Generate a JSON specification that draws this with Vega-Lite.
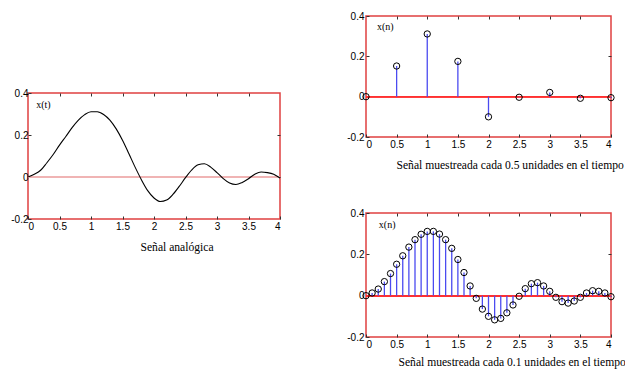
{
  "$schema": "https://vega.github.io/schema/vega-lite/v6.json",
  "padding": {"left": 10, "top": 10, "right": 0, "bottom": 0},
  "background": "white",
  "config": {
    "view": {"stroke": "#e04040", "strokeWidth": 1.5},
    "axis": {
      "domain": false, "grid": false,
      "labelFont": "Liberation Sans", "labelFontSize": 10, "labelColor": "black",
      "tickColor": "#333", "tickSize": -3, "labelPadding": 5,
      "titleFont": "Liberation Serif", "titleFontSize": 11.6, "titleFontWeight": "normal", "titleColor": "black"
    }
  },
  "datasets": {
    "s01": [
      {"t": 0, "v": 0}, {"t": 0.1, "v": 0.013}, {"t": 0.2, "v": 0.032}, {"t": 0.3, "v": 0.068},
      {"t": 0.4, "v": 0.107}, {"t": 0.5, "v": 0.152}, {"t": 0.6, "v": 0.193}, {"t": 0.7, "v": 0.235},
      {"t": 0.8, "v": 0.271}, {"t": 0.9, "v": 0.297}, {"t": 1.0, "v": 0.311}, {"t": 1.1, "v": 0.311},
      {"t": 1.2, "v": 0.298}, {"t": 1.3, "v": 0.271}, {"t": 1.4, "v": 0.229}, {"t": 1.5, "v": 0.175},
      {"t": 1.6, "v": 0.112}, {"t": 1.7, "v": 0.047}, {"t": 1.8, "v": -0.013}, {"t": 1.9, "v": -0.065},
      {"t": 2.0, "v": -0.1}, {"t": 2.1, "v": -0.117}, {"t": 2.2, "v": -0.11}, {"t": 2.3, "v": -0.083},
      {"t": 2.4, "v": -0.045}, {"t": 2.5, "v": -0.003}, {"t": 2.6, "v": 0.034}, {"t": 2.7, "v": 0.058},
      {"t": 2.8, "v": 0.063}, {"t": 2.9, "v": 0.047}, {"t": 3.0, "v": 0.021}, {"t": 3.1, "v": -0.008},
      {"t": 3.2, "v": -0.029}, {"t": 3.3, "v": -0.036}, {"t": 3.4, "v": -0.026}, {"t": 3.5, "v": -0.008},
      {"t": 3.6, "v": 0.013}, {"t": 3.7, "v": 0.024}, {"t": 3.8, "v": 0.021}, {"t": 3.9, "v": 0.013},
      {"t": 4.0, "v": -0.005}
    ],
    "s05": [
      {"t": 0, "v": 0}, {"t": 0.5, "v": 0.152}, {"t": 1.0, "v": 0.311}, {"t": 1.5, "v": 0.175},
      {"t": 2.0, "v": -0.1}, {"t": 2.5, "v": -0.003}, {"t": 3.0, "v": 0.021}, {"t": 3.5, "v": -0.008},
      {"t": 4.0, "v": -0.005}
    ]
  },
  "spacing": 62,
  "hconcat": [
    {
      "spacing": 0,
      "vconcat": [
        {
          "width": 10, "height": 71,
          "view": {"stroke": null},
          "data": {"values": [{}]},
          "mark": {"type": "point", "opacity": 0},
          "encoding": {}
        },
        {
          "width": 252, "height": 126,
          "data": {"name": "s01"},
          "resolve": {"axis": {"x": "independent", "y": "independent"}},
          "layer": [
            {
              "mark": {"type": "rule", "color": "#f0b4b4", "strokeWidth": 1.2},
              "encoding": {"y": {"datum": 0, "type": "quantitative", "axis": null}}
            },
            {
              "mark": {"type": "line", "color": "black", "strokeWidth": 1.1, "interpolate": "monotone"},
              "encoding": {
                "x": {"field": "t", "type": "quantitative", "scale": {"domain": [0, 4], "nice": false},
                  "axis": {"values": [0, 0.5, 1, 1.5, 2, 2.5, 3, 3.5, 4], "format": "~g", "title": "Señal analógica",
                    "titleX": 112, "titleAlign": "left", "titleY": 28, "titleBaseline": "middle"}},
                "y": {"field": "v", "type": "quantitative", "scale": {"domain": [-0.2, 0.4], "nice": false},
                  "axis": {"values": [-0.2, 0, 0.2, 0.4], "format": "~g", "labelPadding": 3, "title": null, "labelExpr": "replace(datum.label, '\u2212', '-')"}}
              }
            },
            {
              "mark": {"type": "point", "opacity": 0},
              "encoding": {
                "x": {"field": "t", "type": "quantitative", "axis": {"orient": "top", "labels": false, "title": null, "values": [0.5, 1, 1.5, 2, 2.5, 3, 3.5]}},
                "y": {"field": "v", "type": "quantitative", "axis": {"orient": "right", "labels": false, "title": null, "values": [0, 0.2]}}
              }
            },
            {
              "data": {"values": [{"label": "x(t)"}]},
              "mark": {"type": "text", "font": "Liberation Serif", "fontSize": 10, "align": "left", "baseline": "middle", "color": "black"},
              "encoding": {
                "x": {"datum": 0.13, "type": "quantitative", "axis": null},
                "y": {"datum": 0.345, "type": "quantitative", "axis": null},
                "text": {"field": "label"}
              }
            }
          ]
        }
      ]
    },
    {
      "spacing": 35,
      "vconcat": [
        {
          "width": 245, "height": 121,
          "data": {"name": "s05"},
          "resolve": {"axis": {"x": "independent", "y": "independent"}},
          "layer": [
            {
              "mark": {"type": "rule", "color": "#ff3030", "strokeWidth": 1.2},
              "encoding": {"y": {"datum": 0, "type": "quantitative", "axis": null}}
            },
            {
              "mark": {"type": "rule", "color": "#4b4bf0", "strokeWidth": 1.3},
              "encoding": {
                "x": {"field": "t", "type": "quantitative", "scale": {"domain": [0, 4], "nice": false},
                  "axis": {"values": [0, 0.5, 1, 1.5, 2, 2.5, 3, 3.5, 4], "format": "~g", "title": "Señal muestreada cada 0.5 unidades en el tiempo",
                    "titleX": 30, "titleAlign": "left", "titleY": 28, "titleBaseline": "middle"}},
                "y": {"field": "v", "type": "quantitative", "scale": {"domain": [-0.2, 0.4], "nice": false},
                  "axis": {"values": [-0.2, 0, 0.2, 0.4], "format": "~g", "title": null, "labelExpr": "replace(datum.label, '\u2212', '-')"}},
                "y2": {"datum": 0}
              }
            },
            {
              "mark": {"type": "point", "shape": "circle", "filled": false, "color": "black", "size": 40, "strokeWidth": 1, "opacity": 1},
              "encoding": {
                "x": {"field": "t", "type": "quantitative", "axis": {"orient": "top", "labels": false, "title": null, "values": [0.5, 1, 1.5, 2, 2.5, 3, 3.5]}},
                "y": {"field": "v", "type": "quantitative", "axis": {"orient": "right", "labels": false, "title": null, "values": [0, 0.2]}}
              }
            },
            {
              "data": {"values": [{"label": "x(n)"}]},
              "mark": {"type": "text", "font": "Liberation Serif", "fontSize": 10, "align": "left", "baseline": "middle", "color": "black"},
              "encoding": {
                "x": {"datum": 0.18, "type": "quantitative", "axis": null},
                "y": {"datum": 0.345, "type": "quantitative", "axis": null},
                "text": {"field": "label"}
              }
            }
          ]
        },
        {
          "width": 245, "height": 124,
          "data": {"name": "s01"},
          "resolve": {"axis": {"x": "independent", "y": "independent"}},
          "layer": [
            {
              "mark": {"type": "rule", "color": "#ff3030", "strokeWidth": 1.2},
              "encoding": {"y": {"datum": 0, "type": "quantitative", "axis": null}}
            },
            {
              "mark": {"type": "rule", "color": "#4b4bf0", "strokeWidth": 1.3},
              "encoding": {
                "x": {"field": "t", "type": "quantitative", "scale": {"domain": [0, 4], "nice": false},
                  "axis": {"values": [0, 0.5, 1, 1.5, 2, 2.5, 3, 3.5, 4], "format": "~g", "title": "Señal muestreada cada 0.1 unidades en el tiempo",
                    "titleX": 32, "titleAlign": "left", "titleY": 25, "titleBaseline": "middle"}},
                "y": {"field": "v", "type": "quantitative", "scale": {"domain": [-0.2, 0.4], "nice": false},
                  "axis": {"values": [-0.2, 0, 0.2, 0.4], "format": "~g", "title": null, "labelExpr": "replace(datum.label, '\u2212', '-')"}},
                "y2": {"datum": 0}
              }
            },
            {
              "mark": {"type": "point", "shape": "circle", "filled": false, "color": "black", "size": 40, "strokeWidth": 1, "opacity": 1},
              "encoding": {
                "x": {"field": "t", "type": "quantitative", "axis": {"orient": "top", "labels": false, "title": null, "values": [0.5, 1, 1.5, 2, 2.5, 3, 3.5]}},
                "y": {"field": "v", "type": "quantitative", "axis": {"orient": "right", "labels": false, "title": null, "values": [0, 0.2]}}
              }
            },
            {
              "data": {"values": [{"label": "x(n)"}]},
              "mark": {"type": "text", "font": "Liberation Serif", "fontSize": 10, "align": "left", "baseline": "middle", "color": "black"},
              "encoding": {
                "x": {"datum": 0.21, "type": "quantitative", "axis": null},
                "y": {"datum": 0.342, "type": "quantitative", "axis": null},
                "text": {"field": "label"}
              }
            }
          ]
        }
      ]
    }
  ]
}
